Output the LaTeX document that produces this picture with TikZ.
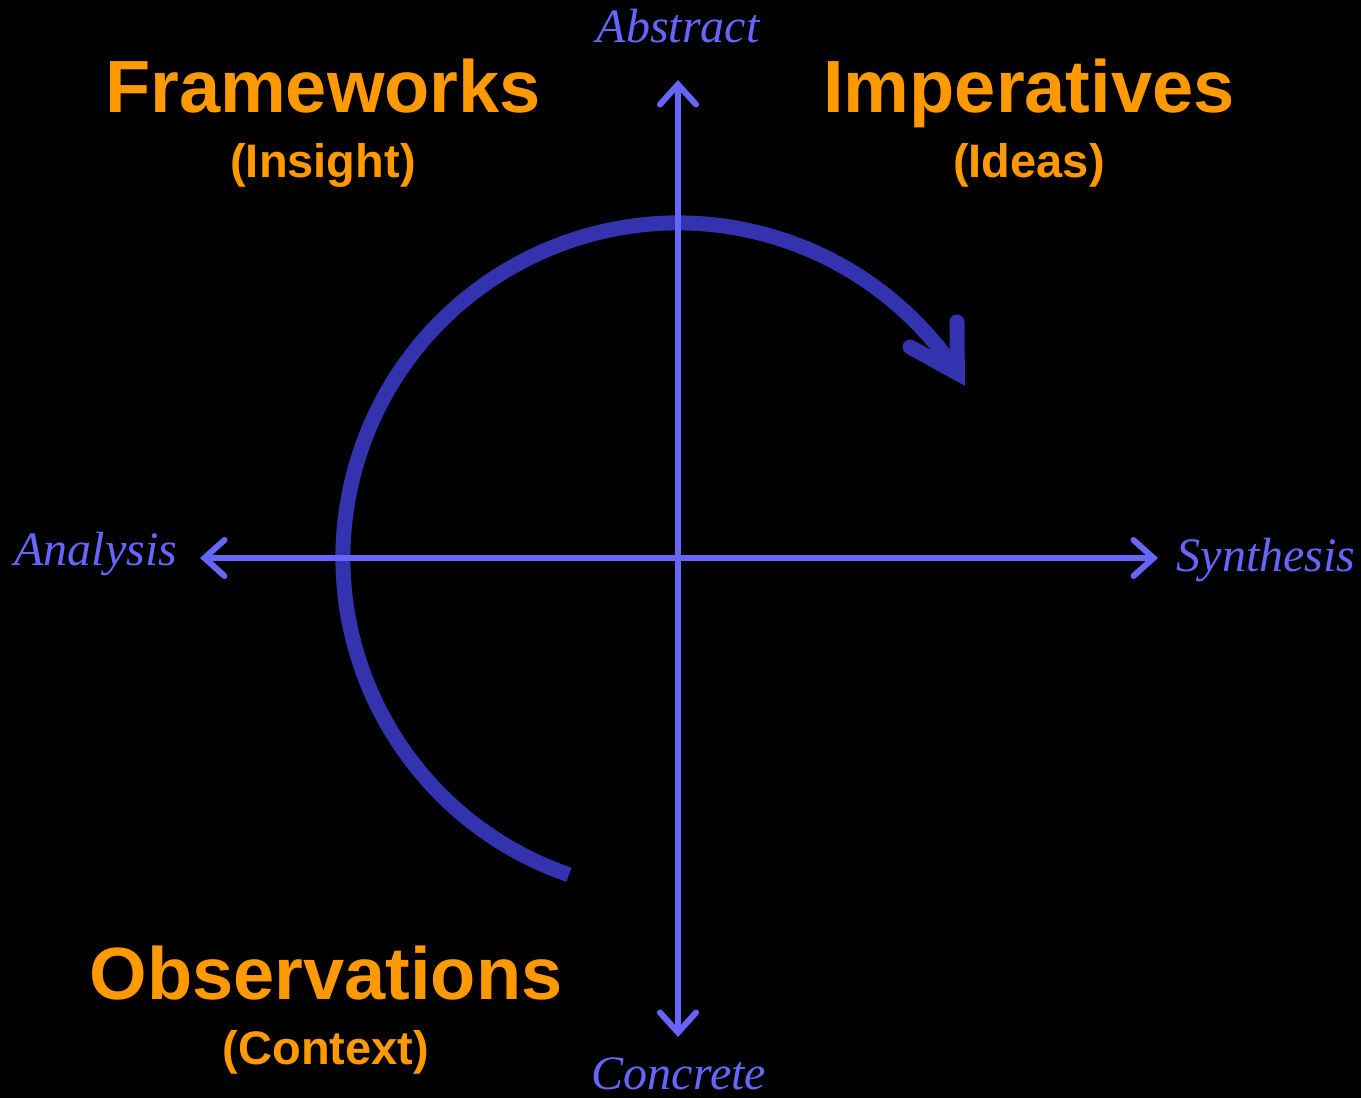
\documentclass[tikz,border=0pt]{standalone}
\usepackage{fontspec}
\setmainfont{Liberation Sans}
\newfontfamily\labelfont{Liberation Serif}
\usetikzlibrary{arrows.meta,calc}
\definecolor{axisblue}{HTML}{6666FF}
\definecolor{cyclebl}{HTML}{3333B0}
\definecolor{titleor}{HTML}{FF9900}
\tikzset{
  axisline/.style={draw=axisblue, line width=6pt, line cap=round,
    {Straight Barb[length=20pt,width=36pt,line cap=round,line join=miter]}-{Straight Barb[length=20pt,width=36pt,line cap=round,line join=miter]}},
  axislabel/.style={text=axisblue, font=\labelfont\itshape\fontsize{48}{50}\selectfont, anchor=base, inner sep=0pt},
  titletext/.style={text=titleor, font=\bfseries\fontsize{74}{76}\selectfont, anchor=base, inner sep=0pt},
  subtext/.style={text=titleor, font=\bfseries\fontsize{47}{49}\selectfont, anchor=base, inner sep=0pt},
  cycle/.style={draw=cyclebl, line width=15pt},
}
\begin{document}
\begin{tikzpicture}[x=1pt,y=1pt]
\fill[black] (0,0) rectangle (1361,1098);
\useasboundingbox (0,0) rectangle (1361,1098);
% axis end coordinates
\coordinate (O) at (678,540);
\coordinate (west) at (200,540);
\coordinate (east) at (1158,540);
\coordinate (north) at (678,1018);
\coordinate (south) at (678,61);
% cycle arrow (below axes)
\coordinate (cstart) at ($(O)+(251:335)$);
\draw[cycle, line cap=butt] (cstart) arc[start angle=251, end angle=33.5, radius=335] coordinate (vtx);
\coordinate (barbA) at (957,776);
\coordinate (barbB) at (910,751);
\draw[cycle, line cap=round, line join=miter] (barbA) -- (vtx) -- (barbB);
% axes
\draw[axisline] (west) -- (east);
\draw[axisline] (south) -- (north);
% axis labels
\node[axislabel] (abstract) at (678,1055) {Abstract};
\node[axislabel] (concrete) at (679,8) {Concrete};
\node[axislabel] (analysis) at (96,532) {Analysis};
\node[axislabel] (synthesis) at (1266,526) {Synthesis};
% quadrant titles
\node[titletext] (frameworks) at (323,985) {Frameworks};
\node[subtext] (insight) at (323,920) {(Insight)};
\node[titletext] (imperatives) at (1029,985) {Imperatives};
\node[subtext] (ideas) at (1029,920) {(Ideas)};
\node[titletext] (observations) at (326,98) {Observations};
\node[subtext] (context) at (326,33) {(Context)};
\end{tikzpicture}
\end{document}
